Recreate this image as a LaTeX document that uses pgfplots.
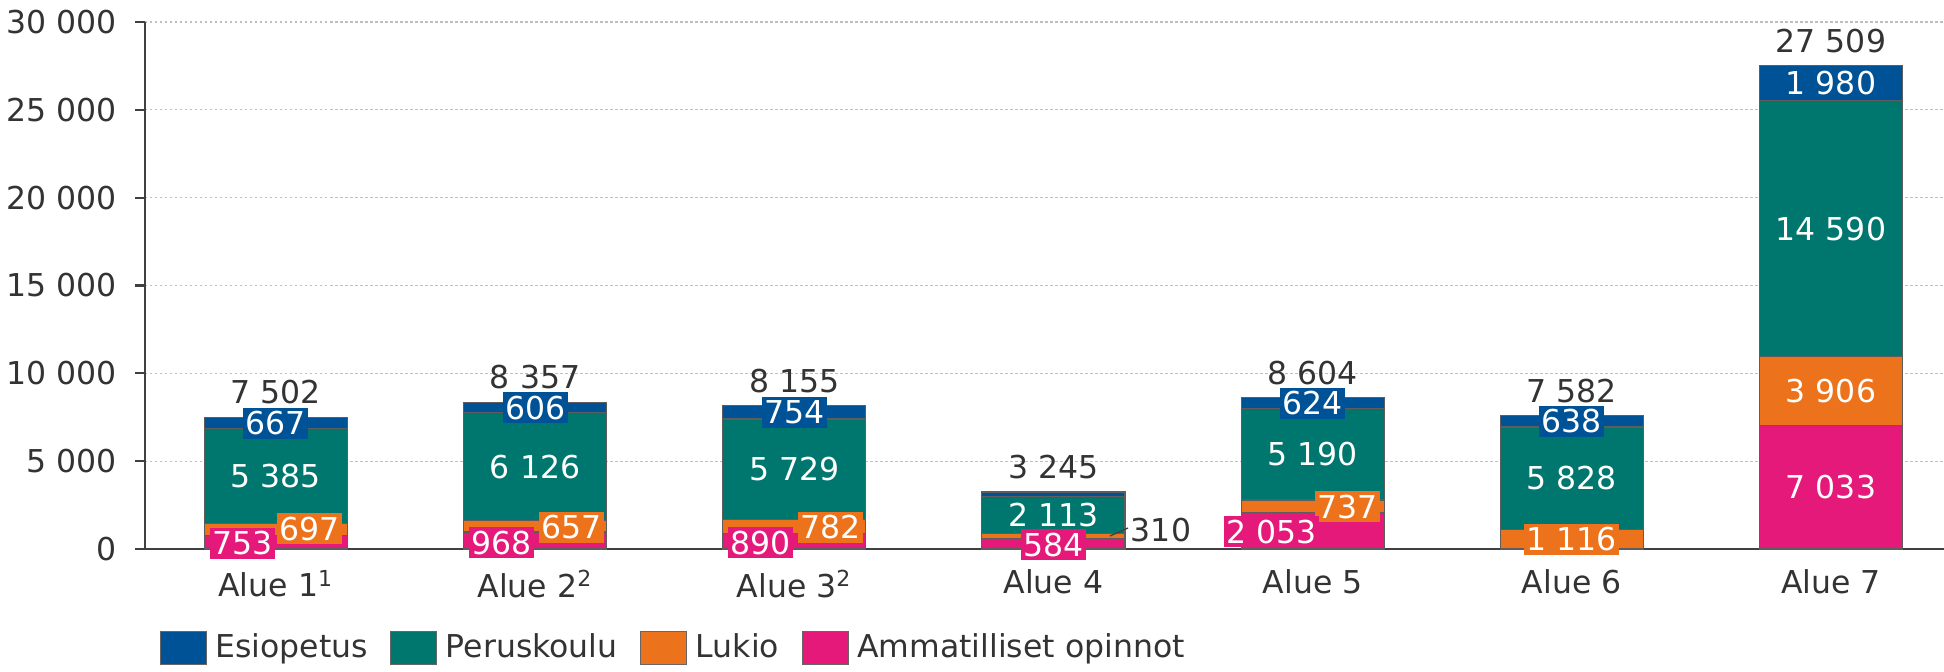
\documentclass[border=0pt]{standalone}
\usepackage{fontspec}
\setmainfont{DejaVu Sans}
\usepackage{pgfplots}
\pgfplotsset{compat=1.18}
\definecolor{cEsi}{RGB}{0,82,150}
\definecolor{cPer}{RGB}{0,119,110}
\definecolor{cLuk}{RGB}{236,115,28}
\definecolor{cAmm}{RGB}{229,25,122}
\definecolor{txt}{RGB}{51,51,51}
\definecolor{axl}{RGB}{64,64,64}
\begin{document}
\fontsize{12.6}{15}\selectfont
\begin{tikzpicture}[
  seg/.style={text=white, inner sep=0pt, anchor=center},
  box/.style={text=white, inner xsep=1pt, inner ysep=1.6pt, text height=9.2pt, text depth=0pt, anchor=center},
  tot/.style={text=txt, anchor=base, yshift=5.4pt, inner sep=0pt},
]
\begin{axis}[
  name=ax,
  scale only axis,
  width=719.6pt, height=210.8pt,
  ybar stacked,
  bar width=0.552,
  xmin=-0.505, xmax=6.436,
  ymin=0, ymax=30000,
  clip=false,
  scaled y ticks=false,
  xtick={0,1,2,3,4,5,6},
  xticklabels={Alue 1\textsuperscript{1},Alue 2\textsuperscript{2},Alue 3\textsuperscript{2},Alue 4,Alue 5,Alue 6,Alue 7},
  ytick={0,5000,10000,15000,20000,25000,30000},
  /pgf/number format/.cd, 1000 sep={\ }, assume math mode=true, /pgfplots/.cd,
  ymajorgrids,
  grid style={gray!50, dash pattern=on 1pt off 1pt, line width=0.5pt},
  axis x line=bottom, axis y line=left,
  axis line style={-, draw=axl, line width=0.9pt},
  xtick style={draw=none},
  ytick style={draw=axl, line width=0.9pt},
  tick align=outside,
  major tick length=4pt,
  tick label style={text=txt},
  yticklabel style={xshift=-3pt},
  xticklabel style={yshift=0pt},
  legend style={at={(0.0078,-0.188)}, anchor=west, legend columns=4, draw=none, fill=none, inner sep=0pt, text=txt,
    /tikz/every even column/.append style={column sep=5.5pt},
    nodes={inner xsep=3.5pt}},
  legend image code/.code={\draw[#1, draw=axl!80, line width=0.4pt] (0pt,-6.6pt) rectangle (18.4pt,6.6pt);},
  reverse legend,
  legend cell align=left,
  every axis plot/.append style={draw=axl!85, line width=0.45pt},
]
\addplot[fill=cAmm] coordinates {(0,753) (1,968) (2,890) (3,584) (4,2053) (5,0) (6,7033)};
\addplot[fill=cLuk] coordinates {(0,697) (1,657) (2,782) (3,310) (4,737) (5,1116) (6,3906)};
\addplot[fill=cPer] coordinates {(0,5385) (1,6126) (2,5729) (3,2113) (4,5190) (5,5828) (6,14590)};
\addplot[fill=cEsi] coordinates {(0,667) (1,606) (2,754) (3,238) (4,624) (5,638) (6,1980)};
\legend{Ammatilliset opinnot,Lukio,Peruskoulu,Esiopetus}

% totals
\coordinate (t0) at (axis cs:0,7502);
\coordinate (t1) at (axis cs:1,8357);
\coordinate (t2) at (axis cs:2,8155);
\coordinate (t3) at (axis cs:3,3245);
\coordinate (t4) at (axis cs:4,8604);
\coordinate (t5) at (axis cs:5,7582);
\coordinate (t6) at (axis cs:6,27509);
% Alue 1
\coordinate (a1) at (axis cs:-0.13,340);
\coordinate (l1) at (axis cs:0.13,1140);
\coordinate (p1) at (axis cs:0,4142);
\coordinate (e1) at (axis cs:0,7168);
% Alue 2
\coordinate (a2) at (axis cs:0.87,345);
\coordinate (l2) at (axis cs:1.14,1250);
\coordinate (p2) at (axis cs:1,4688);
\coordinate (e2) at (axis cs:1,8054);
% Alue 3
\coordinate (a3) at (axis cs:1.87,345);
\coordinate (l3) at (axis cs:2.14,1250);
\coordinate (p3) at (axis cs:2,4537);
\coordinate (e3) at (axis cs:2,7778);
% Alue 4
\coordinate (a4) at (axis cs:3,230);
\coordinate (p4) at (axis cs:3,1950);
\coordinate (q4a) at (axis cs:3.218,739);
\coordinate (q4b) at (axis cs:3.288,1196);
\coordinate (l4) at (axis cs:3.415,1082);
% Alue 5
\coordinate (a5) at (axis cs:3.84,970);
\coordinate (l5) at (axis cs:4.135,2390);
\coordinate (p5) at (axis cs:4,5385);
\coordinate (e5) at (axis cs:4,8292);
% Alue 6
\coordinate (l6) at (axis cs:5,558);
\coordinate (p6) at (axis cs:5,4030);
\coordinate (e6) at (axis cs:5,7263);
% Alue 7
\coordinate (a7) at (axis cs:6,3516);
\coordinate (l7) at (axis cs:6,8986);
\coordinate (p7) at (axis cs:6,18234);
\coordinate (e7) at (axis cs:6,26519);
\end{axis}

\node[tot] at (t0) {7 502};
\node[tot] at (t1) {8 357};
\node[tot] at (t2) {8 155};
\node[tot] at (t3) {3 245};
\node[tot] at (t4) {8 604};
\node[tot] at (t5) {7 582};
\node[tot] at (t6) {27 509};

\node[seg] at (p1) {5 385};
\node[box, fill=cEsi] at (e1) {667};
\node[box, fill=cLuk] at (l1) {697};
\node[box, fill=cAmm] at (a1) {753};

\node[seg] at (p2) {6 126};
\node[box, fill=cEsi] at (e2) {606};
\node[box, fill=cLuk] at (l2) {657};
\node[box, fill=cAmm] at (a2) {968};

\node[seg] at (p3) {5 729};
\node[box, fill=cEsi] at (e3) {754};
\node[box, fill=cLuk] at (l3) {782};
\node[box, fill=cAmm] at (a3) {890};

\node[seg] at (p4) {2 113};
\node[box, fill=cAmm] at (a4) {584};
\draw[axl, line width=0.5pt] (q4a) -- (q4b);
\node[seg, text=txt] at (l4) {310};

\node[seg] at (p5) {5 190};
\node[box, fill=cEsi] at (e5) {624};
\node[box, fill=cLuk] at (l5) {737};
\node[box, fill=cAmm] at (a5) {2 053};

\node[seg] at (p6) {5 828};
\node[box, fill=cEsi] at (e6) {638};
\node[box, fill=cLuk] at (l6) {1 116};

\node[seg] at (a7) {7 033};
\node[seg] at (l7) {3 906};
\node[seg] at (p7) {14 590};
\node[seg] at (e7) {1 980};

\pgfresetboundingbox
\path (ax.south west) ++(-58pt,-49.2pt) rectangle ([yshift=8.8pt]ax.north east);
\end{tikzpicture}
\end{document}
